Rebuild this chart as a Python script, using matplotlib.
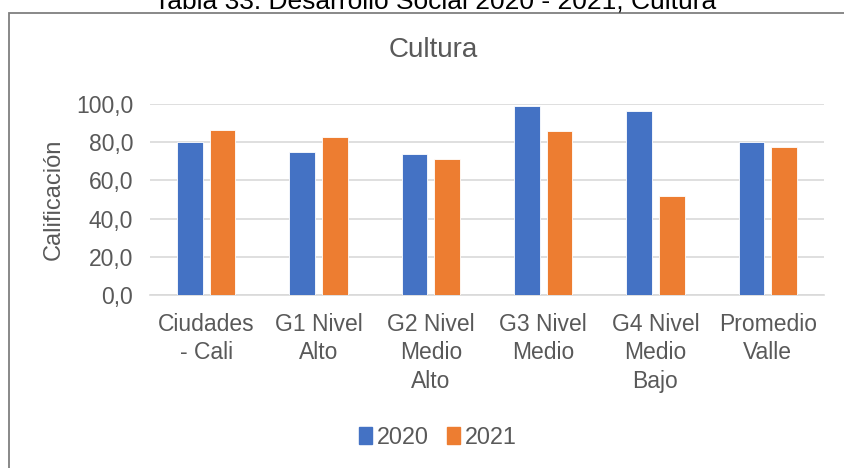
import matplotlib
matplotlib.use("Agg")
import matplotlib.pyplot as plt
import numpy as np
from matplotlib.patches import Rectangle, Patch

plt.rcParams['font.family'] = ['Liberation Sans', 'DejaVu Sans']

categories = ["Ciudades\n- Cali", "G1 Nivel\nAlto", "G2 Nivel\nMedio\nAlto", "G3 Nivel\nMedio",
              "G4 Nivel\nMedio\nBajo", "Promedio\nValle"]
values_2020 = [80.0, 74.7, 73.8, 99.1, 96.5, 80.2]
values_2021 = [86.5, 82.9, 71.2, 85.8, 51.9, 77.3]
series_names = ["2020", "2021"]
yticks = [0, 20, 40, 60, 80, 100]
ytick_labels = ["0,0", "20,0", "40,0", "60,0", "80,0", "100,0"]

blue = "#4472C4"
orange = "#ED7D31"
txt = "#595959"
fs = 16.5

fig = plt.figure(figsize=(8.44, 4.68), dpi=100)
ax = fig.add_axes([150/844, 1-295/468, (824-150)/844, (295-104)/468])

x = np.arange(len(categories))
w = 0.23
off = 0.145
ax.bar(x - off, values_2020, w, color=blue, edgecolor="white", linewidth=0.6, zorder=3)
ax.bar(x + off, values_2021, w, color=orange, edgecolor="white", linewidth=0.6, zorder=3)

ax.set_xlim(-0.5, len(categories) - 0.5)
ax.set_ylim(0, 100)
ax.set_yticks(yticks)
ax.set_yticklabels(ytick_labels, fontsize=fs, color=txt)
ax.set_xticks(x)
ax.set_xticklabels(categories, fontsize=fs, color=txt, linespacing=1.3)
ax.tick_params(axis='y', length=0, pad=12)
ax.tick_params(axis='x', length=0, pad=13)
ax.grid(axis='y', color="#D9D9D9", linewidth=1.2, zorder=0)
for s in ["top", "right", "left"]:
    ax.spines[s].set_visible(False)
ax.spines["bottom"].set_color("#D9D9D9")
ax.spines["bottom"].set_linewidth(1.2)
ax.set_ylabel("Calificación", fontsize=17, color=txt, labelpad=8)

fig.text(433/844, 1-50/468, "Cultura", ha='center', va='center', fontsize=20, color=txt)
fig.text(435/844, 1-8/468, "Tabla 33. Desarrollo Social 2020 - 2021, Cultura", ha='center',
         va='baseline', fontsize=19, color="black")

fig.patches.append(Rectangle((9/844, -0.05), 1.0, 1-12.5/468+0.05, transform=fig.transFigure,
                             fill=False, edgecolor="#7F7F7F", linewidth=1.3))

handles = [Patch(color=blue), Patch(color=orange)]
fig.legend(handles, series_names, loc='center', bbox_to_anchor=(438/844, 1-437/468), ncol=2,
           frameon=False, fontsize=16.8, handlelength=0.55, handleheight=0.75,
           handletextpad=0.2, columnspacing=0.8, labelcolor=txt)

fig.savefig("out.png", dpi=100)
